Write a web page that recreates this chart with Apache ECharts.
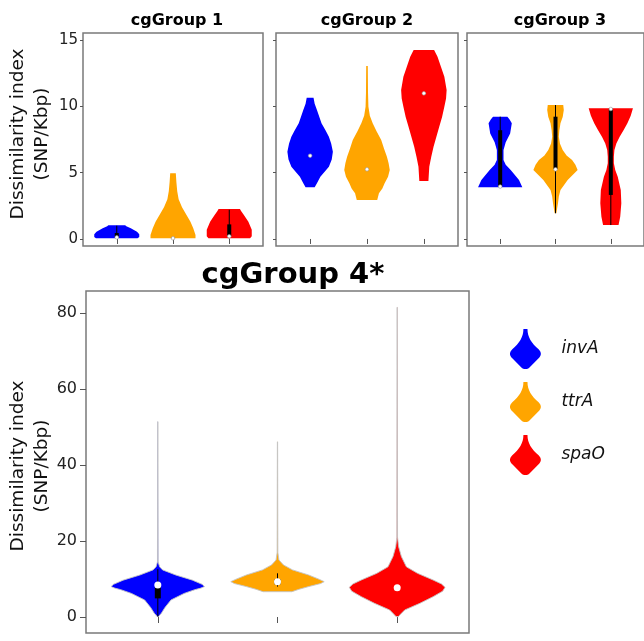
<!DOCTYPE html>
<html><head><meta charset="utf-8">
<script src="https://cdn.jsdelivr.net/npm/echarts@6/dist/echarts.min.js"></script>
<style>html,body{margin:0;padding:0;background:#fff}#main{width:644px;height:641px}</style>
</head><body><div id="main"></div>
<script>
const genes = ['invA', 'ttrA', 'spaO'];
const geneColors = ['#0000FF', '#FFA500', '#FF0000'];
const panelTitles = ['cgGroup 1', 'cgGroup 2', 'cgGroup 3', 'cgGroup 4*'];
const yTicksSmall = [0, 5, 10, 15];
const yTicksLarge = [0, 20, 40, 60, 80];
const xTicks = [1, 2, 3];
const yAxisName = 'Dissimilarity index\n(SNP/Kbp)';

// violin outlines: [value, half-width in category units]
const g1InvA = [[0.05,0.37],[0.15,0.40],[0.35,0.40],[0.55,0.36],[0.8,0.25],[0.95,0.17],[1.03,0.15]];
const g1TtrA = [[0.05,0.40],[0.3,0.40],[0.8,0.36],[1.3,0.31],[1.8,0.24],[2.4,0.16],[3.0,0.10],[3.6,0.075],[4.3,0.06],[4.95,0.05]];
const g1SpaO = [[0.05,0.37],[0.2,0.40],[0.7,0.40],[1.0,0.37],[1.3,0.34],[1.8,0.26],[2.1,0.21],[2.26,0.19]];

const g2InvA = [[3.9,0.08],[4.2,0.12],[4.7,0.18],[5.45,0.33],[6.0,0.38],[6.58,0.40],[7.2,0.37],[7.71,0.33],[8.2,0.27],[8.72,0.20],[9.72,0.12],[10.2,0.08],[10.65,0.06]];
const g2TtrA = [[2.94,0.18],[3.44,0.21],[3.8,0.27],[4.2,0.31],[4.7,0.37],[5.2,0.40],[5.7,0.38],[6.2,0.35],[6.8,0.30],[7.46,0.25],[8.1,0.17],[8.72,0.10],[9.3,0.05],[9.97,0.025],[11.0,0.018],[13.04,0.014]];
const g2SpaO = [[4.37,0.08],[5.45,0.095],[6.2,0.13],[6.96,0.17],[7.7,0.22],[8.46,0.27],[9.2,0.32],[9.97,0.36],[10.6,0.39],[11.23,0.40],[12.23,0.36],[12.98,0.30],[13.74,0.24],[14.24,0.18]];

const g3InvA = [[3.9,0.40],[4.45,0.34],[5.2,0.19],[5.6,0.10],[5.95,0.06],[6.7,0.06],[7.3,0.10],[7.96,0.18],[8.72,0.21],[9.0,0.17],[9.22,0.13]];
const g3TtrA = [[1.94,0.015],[2.69,0.045],[3.2,0.06],[3.7,0.09],[4.45,0.22],[5.2,0.40],[5.6,0.36],[5.95,0.30],[6.3,0.20],[6.7,0.13],[7.2,0.08],[7.71,0.06],[8.2,0.07],[8.72,0.09],[9.2,0.13],[9.72,0.15],[10.1,0.14]];
const g3SpaO = [[1.05,0.14],[1.68,0.17],[2.69,0.19],[3.7,0.18],[4.7,0.125],[5.2,0.08],[5.7,0.055],[6.2,0.055],[6.7,0.065],[7.2,0.10],[7.71,0.16],[8.2,0.23],[8.72,0.30],[9.3,0.36],[9.85,0.40]];

const g4InvA = [[0.1,0.005],[1.0,0.03],[2.5,0.06],[4.47,0.11],[6.2,0.22],[7.2,0.31],[7.6,0.36],[8.0,0.39],[8.6,0.37],[9.7,0.29],[11.05,0.15],[12.4,0.04],[13.2,0.015],[14.5,0.003],[51.4,0.001]];
const g4TtrA = [[6.66,0.12],[7.3,0.18],[8.0,0.26],[8.8,0.36],[9.3,0.39],[9.9,0.35],[11.05,0.26],[12.4,0.125],[13.7,0.05],[15.0,0.012],[17.0,0.003],[46.1,0.001]];
const g4SpaO = [[0.1,0.01],[0.8,0.03],[1.84,0.063],[3.6,0.19],[5.35,0.30],[6.8,0.38],[7.8,0.40],[8.7,0.37],[9.74,0.30],[11.5,0.17],[13.2,0.077],[15.9,0.035],[18.5,0.012],[21.0,0.003],[81.5,0.001]];

// inner box stats: [low whisker, q1, median, q3, high whisker]
const g1Box = [[0.05,0.1,0.12,0.45,1.0],[0,0,0.05,0.1,0.1],[0.05,0.17,0.2,1.1,2.2]];
const g2Box = [[6.28,6.28,6.28,6.28,6.28],[5.25,5.25,5.25,5.25,5.25],[10.98,10.98,10.98,10.98,10.98]];
const g3Box = [[3.9,3.94,3.95,8.2,9.22],[1.94,5.25,5.25,9.22,10.1],[1.05,3.32,9.8,9.85,9.85]];
const g4Box = [[0.1,4.9,8.4,8.1,12.6],[8.0,8.6,9.3,9.9,11.5],[7.7,7.7,7.7,7.7,7.7]];

const profiles = [[g1InvA,g1TtrA,g1SpaO],[g2InvA,g2TtrA,g2SpaO],[g3InvA,g3TtrA,g3SpaO],[g4InvA,g4TtrA,g4SpaO]];
const boxes = [g1Box, g2Box, g3Box, g4Box];

const gridsPos = [
  {left:83, top:33, width:180, height:213},
  {left:276, top:33, width:182, height:213},
  {left:467, top:33, width:182, height:213},
  {left:86, top:291, width:383, height:342}
];
const panelStyle = [
  {boxW:4, dotR:1.8, dotStroke:'#999', stroke:null, strokeW:0},
  {boxW:4, dotR:1.8, dotStroke:'#999', stroke:null, strokeW:0},
  {boxW:4, dotR:1.8, dotStroke:'#999', stroke:null, strokeW:0},
  {boxW:6, dotR:3.5, dotStroke:null, stroke:'#c4c4c4', strokeW:0.9}
];

function makeRender(profile, stats, st) {
  return function (params, api) {
    const xc = api.value(0);
    const right = profile.map(p => api.coord([xc + p[1], p[0]]));
    const left = profile.slice().reverse().map(p => api.coord([xc - p[1], p[0]]));
    const children = [{
      type: 'polygon',
      shape: {points: right.concat(left)},
      style: {fill: api.visual('color'), stroke: st.stroke, lineWidth: st.strokeW}
    }];
    if (stats) {
      const [lo, q1, med, q3, hi] = stats;
      const pLo = api.coord([xc, lo]), pHi = api.coord([xc, hi]);
      if (hi > lo) children.push({type:'line', shape:{x1:pLo[0], y1:pLo[1], x2:pHi[0], y2:pHi[1]}, style:{stroke:'#000', lineWidth:1}});
      const p1 = api.coord([xc, q1]), p3 = api.coord([xc, q3]);
      if (q3 > q1) children.push({type:'rect', shape:{x:p1[0]-st.boxW/2, y:Math.min(p1[1],p3[1]), width:st.boxW, height:Math.abs(p1[1]-p3[1])}, style:{fill:'#000'}});
      const pm = api.coord([xc, med]);
      children.push({type:'circle', shape:{cx:pm[0], cy:pm[1], r:st.dotR}, style:{fill:'#fff', stroke:st.dotStroke, lineWidth:st.dotStroke?0.6:0}});
    }
    return {type:'group', children};
  };
}

const grids = gridsPos.map(g => Object.assign({show:true, borderColor:'#7a7a7a', borderWidth:1.5, backgroundColor:'#fff'}, g));
const xAxes = gridsPos.map((g, i) => ({
  type:'value', gridIndex:i, min:0.4, max:3.6,
  axisLine:{show:false}, splitLine:{show:false},
  axisLabel:{show:false, customValues:xTicks},
  axisTick:{show:true, customValues:xTicks, length: i===3?6:5, lineStyle:{color:'#555', width:1}}
}));
const yAxes = gridsPos.map((g, i) => {
  const big = i === 3;
  return {
    type:'value', gridIndex:i,
    min: big ? -4.21 : -0.53, max: big ? 85.79 : 15.53,
    axisLine:{show:false}, splitLine:{show:false},
    axisTick:{show:true, customValues: big ? yTicksLarge : yTicksSmall, length: big ? 6 : 3, lineStyle:{color:'#555', width:1}},
    axisLabel:{show: i===0 || i===3, customValues: big ? yTicksLarge : yTicksSmall, margin: big ? 9 : 5,
      fontSize: big ? 16 : 15, fontFamily:'DejaVu Sans', color:'#222'}
  };
});

const series = [];
for (let p = 0; p < 4; p++) {
  for (let g = 0; g < 3; g++) {
    series.push({
      type:'custom', name: genes[g], xAxisIndex:p, yAxisIndex:p,
      itemStyle:{color: geneColors[g]},
      data:[[g + 1, 0]], encode:{x:0, y:1},
      renderItem: makeRender(profiles[p][g], boxes[p][g], panelStyle[p])
    });
  }
}

const titleCenters = [[172, 8, 16], [362, 8, 16], [555, 8, 16], [288, 256, 29]];
const titles = panelTitles.map((t, i) => ({
  text: t, left: titleCenters[i][0], top: titleCenters[i][1], textAlign:'center',
  textStyle:{fontSize: titleCenters[i][2], fontWeight:'bold', fontFamily:'DejaVu Sans', color:'#000'}
}));

const option = {
  animation:false,
  backgroundColor:'#fff',
  title: titles,
  grid: grids, xAxis: xAxes, yAxis: yAxes, series,
  legend: {
    data: genes, orient:'vertical', left:510, top:329, padding:0,
    itemWidth:32, itemHeight:40, itemGap:13, selectedMode:false,
    icon:'path://M14 0 L18 0 C18 8 22 14 29 20 C32 23 32 26 29 29 L20 38 C18 40 14 40 12 38 L3 29 C0 26 0 23 3 20 C10 14 14 8 14 0 Z',
    textStyle:{fontStyle:'italic', fontSize:17, fontFamily:'DejaVu Sans', color:'#111', padding:[0,0,0,15]}
  },
  graphic: [
    {type:'text', x:30, y:134, rotation:Math.PI/2,
     style:{text:yAxisName, align:'center', verticalAlign:'middle', textAlign:'center', textVerticalAlign:'middle',
       fontSize:18.5, fontFamily:'DejaVu Sans', lineHeight:24, fill:'#111'}},
    {type:'text', x:30, y:466, rotation:Math.PI/2,
     style:{text:yAxisName, align:'center', verticalAlign:'middle', textAlign:'center', textVerticalAlign:'middle',
       fontSize:18.5, fontFamily:'DejaVu Sans', lineHeight:24, fill:'#111'}}
  ]
};
const chart = echarts.init(document.getElementById('main'), null, {renderer:'canvas'});
chart.setOption(option);
</script></body></html>
